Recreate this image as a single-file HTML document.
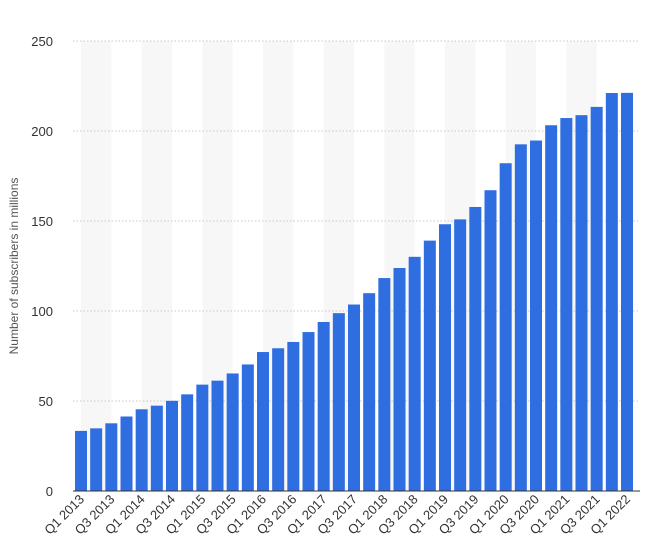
<!DOCTYPE html>
<html><head><meta charset="utf-8"><style>
body{margin:0;background:#fff;font-family:"Liberation Sans",sans-serif}
svg{display:block}
</style></head><body>
<svg id="chart" width="646" height="560" xmlns="http://www.w3.org/2000/svg"></svg>
<script>
const categories=["Q1 2013","Q2 2013","Q3 2013","Q4 2013","Q1 2014","Q2 2014","Q3 2014","Q4 2014","Q1 2015","Q2 2015","Q3 2015","Q4 2015","Q1 2016","Q2 2016","Q3 2016","Q4 2016","Q1 2017","Q2 2017","Q3 2017","Q4 2017","Q1 2018","Q2 2018","Q3 2018","Q4 2018","Q1 2019","Q2 2019","Q3 2019","Q4 2019","Q1 2020","Q2 2020","Q3 2020","Q4 2020","Q1 2021","Q2 2021","Q3 2021","Q4 2021","Q1 2022"];
const subscribers=[33.4,34.8,37.6,41.4,45.4,47.4,50.1,53.7,59.1,61.3,65.3,70.3,77.2,79.3,82.8,88.3,93.9,98.8,103.6,109.9,118.3,123.9,130.1,139.1,148.2,150.9,157.8,167.1,182.1,192.6,194.7,203.2,207.2,208.8,213.4,221.1,221.2];
const yTicks=[0,50,100,150,200,250];
const svg=document.getElementById('chart');
const NS='http://www.w3.org/2000/svg';
const x0=75,step=(621-75)/36,bw=12,yBase=491,yTop=41,yMax=250;
const xPos=i=>x0+i*step;
const yPos=v=>yBase-(v/yMax)*(yBase-yTop);
function mk(tag,attrs,parent){const e=document.createElementNS(NS,tag);for(const k in attrs)e.setAttribute(k,attrs[k]);(parent||svg).appendChild(e);return e;}
// bands
for(let i=0;i+2<categories.length;i+=4){
  const b=mk('rect',{x:xPos(i)+bw/2,y:yTop,width:2*step,height:yBase-yTop,fill:'#f7f7f7'});
  
  
}
yTicks.forEach(t=>{
  if(t>0){const l=mk('line',{x1:73,x2:640,y1:yPos(t),y2:yPos(t),stroke:'#c8c8c8','stroke-dasharray':'1.5,2'});
  
  }
  const tx=mk('text',{x:53,y:yPos(t)+5,'text-anchor':'end','font-size':'13',fill:'#333'});
  tx.textContent=t;
  
  
});
subscribers.forEach((v,i)=>{
  const r=mk('rect',{x:xPos(i),y:yPos(v),width:bw,height:yBase-yPos(v),fill:'#2f6ee0'});
  
  
});
const base=mk('line',{x1:73,x2:640,y1:yBase,y2:yBase,stroke:'#333','stroke-width':1});


categories.forEach((c,i)=>{
  if(i%2)return;
  const cx=xPos(i)+bw/2+4, cy=500;
  const t=mk('text',{x:cx,y:cy,'text-anchor':'end','font-size':'13',fill:'#333',transform:`rotate(-45 ${cx} ${cy})`});
  t.textContent=c;
  
  
});
const yt=mk('text',{x:18,y:266,'text-anchor':'middle','font-size':'12',fill:'#555',transform:'rotate(-90 18 266)'});
yt.textContent='Number of subscribers in millions';


</script>
</body></html>
